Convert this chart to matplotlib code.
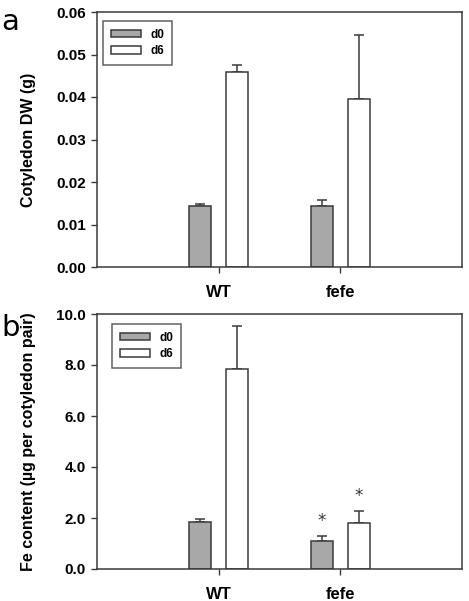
import matplotlib
matplotlib.use("Agg")
import matplotlib.pyplot as plt
import numpy as np

categories = ["WT", "fefe"]
series = ["d0", "d6"]
dw_d0 = [0.0143, 0.0144]
dw_d0_err = [0.0005, 0.0014]
dw_d6 = [0.0459, 0.0395]
dw_d6_err = [0.0016, 0.0151]
fe_d0 = [1.84, 1.11]
fe_d0_err = [0.14, 0.17]
fe_d6 = [7.85, 1.80]
fe_d6_err = [1.69, 0.46]
fe_stars = [[False, True], [False, True]]  # [series][category]

plt.rcParams['font.family'] = ['Liberation Sans', 'DejaVu Sans']
fig = plt.figure(figsize=(4.69, 6.01), dpi=100)
W, H = 469, 601

edge = '#3a3a3a'
colors = ['#a8a8a8', 'white']
x = np.array([1, 2])
bw = 0.18
off = 0.15

def panel(rect, d0, d0e, d6, d6e, ylim, yticks, yfmt, ylabel, letter, letter_y, stars=None, legrect=None):
    l, t, r, b = rect
    ax = fig.add_axes([l / W, 1 - b / H, (r - l) / W, (b - t) / H])
    vals = [d0, d6]
    errs = [d0e, d6e]
    handles = []
    for i, (v, e) in enumerate(zip(vals, errs)):
        pos = x + (-off if i == 0 else off)
        bars = ax.bar(pos, v, width=bw, color=colors[i], edgecolor=edge, linewidth=1.1, label=series[i], zorder=2)
        ax.errorbar(pos, v, yerr=[np.zeros(len(v)), e], fmt='none', ecolor=edge, elinewidth=1.1,
                    capsize=3.3, capthick=1.1, zorder=1)
        handles.append(bars)
        if stars is not None:
            for j in range(len(v)):
                if stars[i][j]:
                    ax.annotate('*', xy=(pos[j], v[j] + e[j]), xytext=(0, 11),
                                textcoords='offset points', ha='center', va='center',
                                fontsize=12, color='#333333', family='DejaVu Sans')
    ax.set_xlim(0, 3)
    ax.set_ylim(*ylim)
    ax.set_xticks(x)
    ax.set_xticklabels(categories, fontsize=12, fontweight='bold')
    ax.set_yticks(yticks)
    ax.set_yticklabels([yfmt.format(v) for v in yticks], fontsize=11, fontweight='bold')
    ax.tick_params(axis='both', direction='out', length=4, width=1, color=edge, pad=4)
    ax.tick_params(axis='x', pad=9)
    for s in ax.spines.values():
        s.set_color(edge)
        s.set_linewidth(1.1)
    ax.set_ylabel(ylabel, fontsize=11.5, fontweight='bold')
    ax.yaxis.set_label_coords((36 - l) / (r - l), 0.5)
    leg = ax.legend(handles=handles, labels=series, loc='upper left',
                    bbox_to_anchor=((legrect[0] - l) / (r - l), 1 - (legrect[1] - t) / (b - t)),
                    prop={'weight': 'bold', 'size': 8.5}, frameon=True, fancybox=False,
                    edgecolor=edge, handlelength=2.6, handleheight=0.6, borderpad=0.65,
                    labelspacing=0.4, handletextpad=0.8, borderaxespad=0)
    leg.get_frame().set_linewidth(1.1)
    fig.text(1 / W, 1 - letter_y / H, letter, fontsize=21, va='center', ha='left', family='DejaVu Sans')
    return ax

panel((97, 12, 462, 267), dw_d0, dw_d0_err, dw_d6, dw_d6_err, (0, 0.06),
      [0, 0.01, 0.02, 0.03, 0.04, 0.05, 0.06], '{:.2f}', 'Cotyledon DW (g)', 'a', 22,
      legrect=(103, 21))
panel((97, 314, 462, 569), fe_d0, fe_d0_err, fe_d6, fe_d6_err, (0, 10),
      [0, 2, 4, 6, 8, 10], '{:.1f}', 'Fe content (\u00b5g per cotyledon pair)', 'b', 328,
      stars=fe_stars, legrect=(112, 324))

fig.savefig('out.png', dpi=100)
